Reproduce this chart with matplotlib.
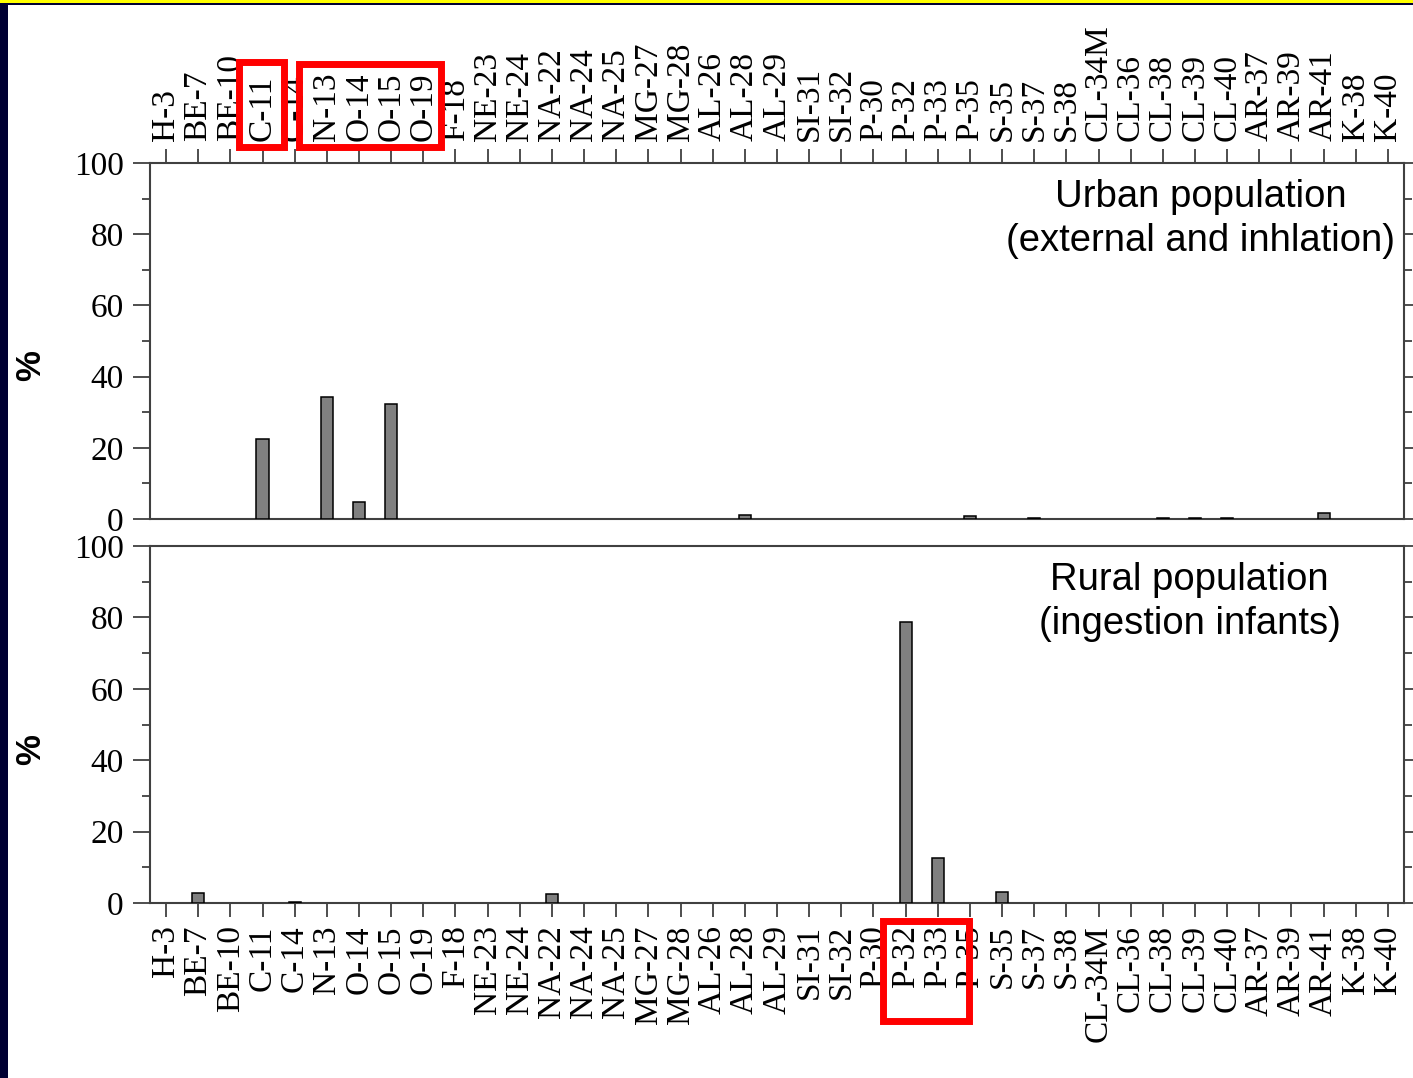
import matplotlib
matplotlib.use("Agg")
import matplotlib.pyplot as plt
import numpy as np
from matplotlib.patches import Rectangle
from matplotlib.ticker import MultipleLocator

# nuclide list, same for both panels
nuclides = ["H-3", "BE-7", "BE-10", "C-11", "C-14", "N-13", "O-14", "O-15", "O-19",
            "F-18", "NE-23", "NE-24", "NA-22", "NA-24", "NA-25", "MG-27", "MG-28",
            "AL-26", "AL-28", "AL-29", "SI-31", "SI-32", "P-30", "P-32", "P-33",
            "P-35", "S-35", "S-37", "S-38", "CL-34M", "CL-36", "CL-38", "CL-39",
            "CL-40", "AR-37", "AR-39", "AR-41", "K-38", "K-40"]

# % contribution, urban population (external and inhalation)
urban = [0, 0, 0, 22.5, 0, 34.4, 4.9, 32.2, 0,
         0, 0, 0, 0, 0, 0, 0, 0,
         0, 1.2, 0, 0, 0, 0, 0, 0,
         0.9, 0, 0.3, 0, 0, 0, 0.3, 0.3,
         0.3, 0, 0, 1.7, 0, 0]

# % contribution, rural population (ingestion infants)
rural = [0, 2.8, 0, 0, 0.3, 0, 0, 0, 0,
         0, 0, 0, 2.6, 0, 0, 0, 0,
         0, 0, 0, 0, 0, 0, 78.8, 12.6,
         0, 3.0, 0, 0, 0, 0, 0, 0,
         0, 0, 0, 0, 0, 0]

W, H = 1413, 1078
navy = "#000033"
axcol = "#404040"
serif = ["Liberation Serif", "DejaVu Serif"]
sans = ["Liberation Sans", "DejaVu Sans"]

fig = plt.figure(figsize=(W / 100, H / 100), dpi=100, facecolor=navy)
# white slide area and yellow top line
fig.patches.append(Rectangle((8 / W, 0), 1, 1 - 5 / H, transform=fig.transFigure,
                             facecolor="white", edgecolor="none", zorder=-10))
fig.patches.append(Rectangle((0, 1 - 3 / H), 1, 3 / H, transform=fig.transFigure,
                             facecolor="#ffff00", edgecolor="none", zorder=-10))


def box(top, bottom):
    return [150 / W, 1 - bottom / H, (1404 - 150) / W, (bottom - top) / H]


ax1 = fig.add_axes(box(163, 519))
ax2 = fig.add_axes(box(546, 903))

x = np.arange(len(nuclides))
for ax, vals in [(ax1, urban), (ax2, rural)]:
    vals = np.array(vals)
    keep = vals > 0
    ax.bar(x[keep], vals[keep], width=0.38, color="#808080", edgecolor="black",
           linewidth=1.1, zorder=3)
    ax.set_xlim(-0.5, len(nuclides) - 0.5)
    ax.set_ylim(0, 100)
    ax.yaxis.set_major_locator(MultipleLocator(20))
    ax.yaxis.set_minor_locator(MultipleLocator(10))
    ax.set_xticks(x)
    for s in ax.spines.values():
        s.set_color(axcol)
        s.set_linewidth(1.5)
    ax.tick_params(axis="y", which="major", direction="out", length=12, width=1.3,
                   color=axcol, left=True, right=True, labelsize=24, pad=7)
    ax.tick_params(axis="y", which="minor", direction="out", length=6, width=1.3,
                   color=axcol, left=True, right=True)
    ax.tick_params(axis="x", direction="out", length=10, width=1.3, color=axcol,
                   labelsize=24, pad=6)
    for lab in ax.get_yticklabels():
        lab.set_family(serif)

ax1.tick_params(axis="x", top=True, bottom=False, labeltop=True, labelbottom=False)
ax1.set_xticklabels(nuclides, rotation=90, family=serif)
ax2.tick_params(axis="x", top=False, bottom=True, labeltop=False, labelbottom=True)
ax2.set_xticklabels(nuclides, rotation=90, family=serif)

# y axis titles
for yc in (366, 750):
    fig.text(31 / W, 1 - yc / H, "%", rotation=90, ha="center", va="center",
             fontsize=25, fontweight="bold", family=sans)

ax1.text(0.838, 0.843, "Urban population\n(external and inhlation)", transform=ax1.transAxes,
         ha="center", va="center", fontsize=27.5, family=sans, linespacing=1.3)
ax2.text(0.829, 0.843, "Rural population\n(ingestion infants)", transform=ax2.transAxes,
         ha="center", va="center", fontsize=27.5, family=sans, linespacing=1.3)

# red highlight boxes around selected labels
def redbox(x0, y0, x1, y1):
    fig.patches.append(Rectangle((x0 / W, 1 - y1 / H), (x1 - x0) / W, (y1 - y0) / H,
                                 transform=fig.transFigure, facecolor="none",
                                 edgecolor="#ff0000", linewidth=5, zorder=10))

redbox(239, 62, 284, 147)
redbox(299, 64, 441, 147)
redbox(883, 921, 969, 1021)

fig.savefig("out.png", dpi=100, facecolor=fig.get_facecolor())
